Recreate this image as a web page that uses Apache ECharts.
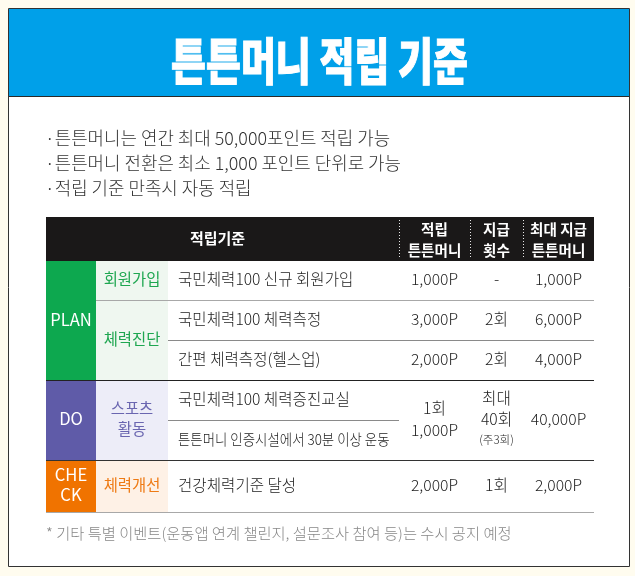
<!DOCTYPE html>
<html><head><meta charset="utf-8">
<style>html,body{margin:0;padding:0;background:#FFFCEF}#c{width:635px;height:576px}</style>
<script src="https://cdn.jsdelivr.net/npm/echarts@6/dist/echarts.min.js"></script>
</head><body><div id="c"></div>
<script>
// ---------- content ----------
const titleText = '튼튼머니 적립 기준';
const notes = ['·튼튼머니는 연간 최대 50,000포인트 적립 가능', '·튼튼머니 전환은 최소 1,000 포인트 단위로 가능', '·적립 기준 만족시 자동 적립'];
const footnote = '* 기타 특별 이벤트(운동앱 연계 챌린지, 설문조사 참여 등)는 수시 공지 예정';
const headerLabels = ['적립기준', '적립\n튼튼머니', '지급\n횟수', '최대 지급\n튼튼머니'];
const stages = ['PLAN', 'DO', 'CHE\nCK'];
const programs = ['회원가입', '체력진단', '스포츠\n활동', '체력개선'];
const criteria = ['국민체력100 신규 회원가입', '국민체력100 체력측정', '간편 체력측정(헬스업)', '국민체력100 체력증진교실', '튼튼머니 인증시설에서 30분 이상 운동', '건강체력기준 달성'];
const rewards = ['1,000P', '3,000P', '2,000P', '1회\n1,000P', '2,000P'];
const counts = ['-', '2회', '2회', '최대\n40회\n{s|(주3회)}', '1회'];
const maxRewards = ['1,000P', '6,000P', '4,000P', '40,000P', '2,000P'];

// ---------- layout (separate from the content) ----------
const colEdges = [0, 50, 122, 353, 424, 477, 548];
const rowEdges = [0, 44, 83, 123, 163, 203, 243, 295];
const stageRows = [[1, 4], [4, 6], [6, 7]];
const programRows = [[1, 2], [2, 4], [4, 6], [6, 7]];
const rewardRows = [[1, 2], [2, 3], [3, 4], [4, 6], [6, 7]];
const stageColors = ['#0DA84F', '#5F5BA8', '#F07300'];
const programBg = ['#EFF7F0', '#EFF7F0', '#EDEDF8', '#FEF1E6'];
const programFg = ['#1EA650', '#1EA650', '#6A66B0', '#EE7A14'];
const FONT = '"Noto Sans CJK KR","Noto Sans",sans-serif';

const cells = [];
function cell(c0, c1, r0, r1, text, o) {
  cells.push(Object.assign({ value: [colEdges[c0], rowEdges[r0], colEdges[c1], rowEdges[r1]], text: text, size: 15, color: '#222', dy: -1, sx: 1, weight: 300 }, o));
}
cell(0, 6, 0, 1, '', { bg: '#1A1818' });
cell(0, 3, 0, 1, headerLabels[0], { color: '#fff', weight: 'bold', size: 15, dx: -5, dy: -1 });
[3, 4, 5].forEach((c, i) => cell(c, c + 1, 0, 1, headerLabels[i + 1], { color: '#fff', weight: 'bold', size: 14.6, lh: 21, dy: 1 }));
stages.forEach((s, i) => cell(0, 1, stageRows[i][0], stageRows[i][1], s, { bg: stageColors[i], color: '#fff', size: 16.6, lh: 20, weight: 'normal' }));
programs.forEach((s, i) => cell(1, 2, programRows[i][0], programRows[i][1], s, { bg: programBg[i], color: programFg[i], size: 15.4, lh: 21, weight: 'normal' }));
criteria.forEach((s, i) => cell(2, 3, i + 1, i + 2, s, { align: 'left', pad: 10, size: i === 4 ? 15 : 15.6, sx: i === 4 ? 0.895 : 1 }));
rewards.forEach((s, i) => cell(3, 4, rewardRows[i][0], rewardRows[i][1], s, { size: 15.7, lh: 22 }));
counts.forEach((s, i) => cell(4, 5, rewardRows[i][0], rewardRows[i][1], s, { size: 15.7, lh: 21 }));
maxRewards.forEach((s, i) => cell(5, 6, rewardRows[i][0], rewardRows[i][1], s, { size: 15.7 }));

const rules = [
  { value: [colEdges[1], rowEdges[2], colEdges[6], rowEdges[2]], color: '#A8A8A8' },
  { value: [colEdges[2], rowEdges[3], colEdges[6], rowEdges[3]], color: '#8A8A8A' },
  { value: [colEdges[0], rowEdges[4], colEdges[6], rowEdges[4]], color: '#222' },
  { value: [colEdges[2], rowEdges[5], colEdges[3], rowEdges[5]], color: '#8A8A8A' },
  { value: [colEdges[0], rowEdges[6], colEdges[6], rowEdges[6]], color: '#333' },
  { value: [colEdges[0], rowEdges[7], colEdges[6], rowEdges[7]], color: '#A8A8A8' }
];
const dividers = [3, 4, 5].map(c => ({ value: [colEdges[c], 3, colEdges[c], rowEdges[1] - 3], color: '#E8E8E8', dash: [1, 2] }));

function renderCell(params, api) {
  const d = cells[params.dataIndex];
  const p0 = api.coord([api.value(0), api.value(1)]);
  const p1 = api.coord([api.value(2), api.value(3)]);
  const kids = [];
  if (d.bg) kids.push({ type: 'rect', shape: { x: p0[0], y: p0[1], width: p1[0] - p0[0], height: p1[1] - p0[1] }, style: { fill: d.bg } });
  if (d.text) {
    const left = d.align === 'left';
    kids.push({ type: 'text',
      x: left ? p0[0] + d.pad : (p0[0] + p1[0]) / 2 + (d.dx || 0),
      y: (p0[1] + p1[1]) / 2 + d.dy,
      scaleX: d.sx,
      style: {
        text: d.text, x: 0, y: 0,
        align: left ? 'left' : 'center', verticalAlign: 'middle',
        fontFamily: FONT, fontSize: d.size, fontWeight: d.weight,
        lineHeight: d.lh || d.size * 1.3, fill: d.color,
        rich: { s: { fontSize: 11.5, fontFamily: FONT, fontWeight: 300, fill: d.color, lineHeight: d.lh } }
      } });
  }
  return { type: 'group', children: kids };
}
function renderRule(list) {
  return function (params, api) {
    const d = list[params.dataIndex];
    const a = api.coord([api.value(0), api.value(1)]);
    const b = api.coord([api.value(2), api.value(3)]);
    const vertical = a[0] === b[0];
    const ox = vertical ? 0.5 : 0, oy = vertical ? 0 : 0.5;
    return { type: 'line', shape: { x1: a[0] + ox, y1: a[1] + oy, x2: b[0] + ox, y2: b[1] + oy }, style: { stroke: d.color, lineWidth: 1, lineDash: d.dash } };
  };
}

const chart = echarts.init(document.getElementById('c'), null, { renderer: 'canvas' });
chart.setOption({
  animation: false,
  backgroundColor: '#FFFCEF',
  grid: { left: 46, top: 217, width: 548, height: 295 },
  xAxis: { type: 'value', min: 0, max: 548, show: false },
  yAxis: { type: 'value', min: 0, max: 295, inverse: true, show: false },
  graphic: [
    { type: 'rect', z: -10, shape: { x: 8.5, y: 8.5, width: 621, height: 558 }, style: { fill: '#fff', stroke: '#333', lineWidth: 1 } },
    { type: 'rect', z: -9, shape: { x: 9, y: 9, width: 620, height: 87 }, style: { fill: '#00A0E9' } },
    { type: 'line', z: -8, shape: { x1: 9, y1: 96.5, x2: 629, y2: 96.5 }, style: { stroke: '#2A2A2A', lineWidth: 1 } },
    { type: 'text', z: 5, x: 319.5, y: 61, scaleX: 0.76, style: { text: titleText, x: 0, y: 0, align: 'center', verticalAlign: 'middle', fontFamily: FONT, fontSize: 50, fontWeight: 900, fill: '#fff', stroke: '#fff', lineWidth: 1 } },
    ...notes.map((t, i) => ({ type: 'text', z: 5, x: 45, y: 138 + i * 25, style: { text: t, align: 'left', verticalAlign: 'middle', fontFamily: FONT, fontSize: 17.9, fontWeight: 300, fill: '#333' } })),
    { type: 'text', z: 5, x: 46, y: 533, style: { text: footnote, align: 'left', verticalAlign: 'middle', fontFamily: FONT, fontSize: 15.3, fontWeight: 300, fill: '#888' } }
  ],
  series: [
    { type: 'custom', coordinateSystem: 'cartesian2d', clip: false, silent: true, z: 2, renderItem: renderCell, encode: { x: [0, 2], y: [1, 3] }, data: cells.map(c => c.value) },
    { type: 'custom', coordinateSystem: 'cartesian2d', clip: false, silent: true, z: 3, renderItem: renderRule(rules), encode: { x: [0, 2], y: [1, 3] }, data: rules.map(c => c.value) },
    { type: 'custom', coordinateSystem: 'cartesian2d', clip: false, silent: true, z: 4, renderItem: renderRule(dividers), encode: { x: [0, 2], y: [1, 3] }, data: dividers.map(c => c.value) }
  ]
});
</script></body></html>
